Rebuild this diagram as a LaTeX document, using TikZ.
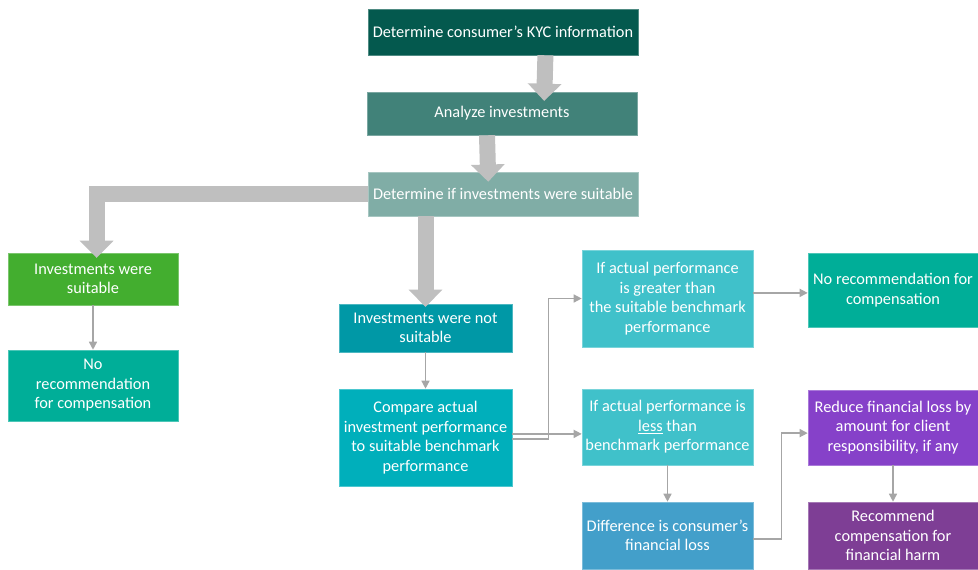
\documentclass[tikz,border=0pt]{standalone}
\usepackage{fontspec}
\setmainfont{Carlito}
\usetikzlibrary{arrows.meta}
\definecolor{kycgreen}{HTML}{04594E}
\definecolor{anagreen}{HTML}{418279}
\definecolor{detgreen}{HTML}{80ADA6}
\definecolor{suitgreen}{HTML}{43AE2F}
\definecolor{norecteal}{HTML}{00AE98}
\definecolor{notsteal}{HTML}{0098A6}
\definecolor{compteal}{HTML}{00AFBB}
\definecolor{perfteal}{HTML}{40C1CA}
\definecolor{diffblue}{HTML}{439FCA}
\definecolor{redpurple}{HTML}{8641C9}
\definecolor{recpurple}{HTML}{7E3E95}
\definecolor{biggray}{HTML}{BFBFBF}
\definecolor{thingray}{HTML}{A6A6A6}
\tikzset{
box/.style={
		rectangle,
		draw=#1!70!white,
		fill=#1,
		line width=0.4pt,
		text=white,
		align=center,
		inner sep=0pt,
		font=\fontsize{11.6}{13.9}\selectfont
	},
bigarrow/.style={
		draw=biggray,
		line width=0.4cm,
		-{Triangle[width=0.82cm,length=0.43cm]}
	},
thinarrow/.style={
		draw=thingray,
		line width=1pt,
		-{Triangle[width=0.2cm,length=0.2cm]}
	}
}
\begin{document}
\begin{tikzpicture}[x=0.025cm,y=-0.025cm]
			\useasboundingbox (0,0) rectangle (978,570);
			\node[box=kycgreen, minimum width=6.75cm, minimum height=1.15cm] (kyc) at (503,32) {Determine consumer’s KYC information};
			\node[box=anagreen, minimum width=6.75cm, minimum height=1.075cm] (ana) at (502,113.5) {Analyze investments};
			\node[box=detgreen, minimum width=6.75cm, minimum height=1.1cm] (det) at (503,194) {Determine if investments were suitable};
			\node[box=suitgreen, minimum width=4.25cm, minimum height=1.3cm] (suit) at (93,279) {Investments were\\suitable};
			\node[box=norecteal, minimum width=4.25cm, minimum height=1.775cm] (norecl) at (93,385.5) {No\\recommendation\\for compensation};
			\node[box=notsteal, minimum width=4.325cm, minimum height=1.2cm] (nots) at (425.5,328) {Investments were not\\suitable};
			\node[box=compteal, minimum width=4.325cm, minimum height=2.425cm] (comp) at (425.5,437.5) {Compare actual\\investment performance\\to suitable benchmark\\performance};
			\node[box=perfteal, minimum width=4.275cm, minimum height=2.425cm] (great) at (667.5,298.5) {If actual performance\\is greater than\\the suitable benchmark\\performance};
			\node[box=norecteal, minimum width=4.25cm, minimum height=1.85cm] (norecr) at (893,290) {No recommendation for\\compensation};
			\node[box=perfteal, minimum width=4.275cm, minimum height=1.9cm] (less) at (667.5,427) {If actual performance is\\\underline{less} than\\benchmark performance};
			\node[box=diffblue, minimum width=4.275cm, minimum height=1.675cm] (diff) at (667.5,535.5) {Difference is consumer’s\\financial loss};
			\node[box=redpurple, minimum width=4.25cm, minimum height=1.875cm] (red) at (893,427.5) {Reduce financial loss by\\amount for client\\responsibility, if any};
			\node[box=recpurple, minimum width=4.25cm, minimum height=1.675cm] (rec) at (893,535.5) {Recommend\\compensation for\\financial harm};
			\draw[bigarrow, shorten >=-0.23cm] ([xshift=1.06cm]kyc.south) -- ([xshift=1.06cm]ana.north);
			\draw[bigarrow, shorten >=-0.25cm] ([xshift=-0.375cm]ana.south) -- ([xshift=-0.375cm]det.north);
			\draw[bigarrow, shorten >=-0.13cm] (det.west) -| ([xshift=0.09cm]suit.north);
			\draw[bigarrow, shorten >=-0.08cm] (det.south -| nots.north) -- (nots.north);
			\draw[thinarrow] (suit) -- (norecl);
			\draw[thinarrow] (nots) -- (comp);
			\draw[thinarrow] ([yshift=-0.04cm]comp.east) -- ++(36,0) |- (great.west);
			\draw[thinarrow] ([yshift=0.09cm]comp.east) -- ([yshift=0.09cm]comp.east -| less.west);
			\draw[thinarrow] ([yshift=0.14cm]great.east) -- ([yshift=0.14cm]great.east -| norecr.west);
			\draw[thinarrow] (less) -- (diff);
			\draw[thinarrow] ([yshift=-0.09cm]diff.east) -- ++(28,0) |- ([yshift=-0.14cm]red.west);
			\draw[thinarrow] (red) -- (rec);
			\end{tikzpicture}
\end{document}
